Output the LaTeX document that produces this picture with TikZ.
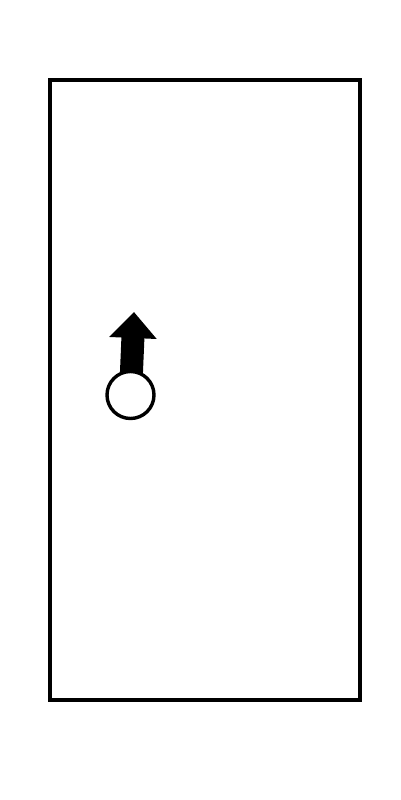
\documentclass[tikz,border=0pt]{standalone}
\usetikzlibrary{arrows.meta,backgrounds}
\begin{document}
\begin{tikzpicture}[x=1pt,y=-1pt,
  frame/.style={draw=black,line width=3.2pt,outer sep=0pt,inner sep=0pt},
  dot/.style={circle,draw=black,fill=white,line width=3.4pt,minimum size=47pt,inner sep=0pt},
  fatarrow/.style={line width=23pt,-{Triangle[width=46pt,length=26pt]}}]
\useasboundingbox (0,0) rectangle (400,800);
\node[frame,minimum width=310pt,minimum height=620pt,anchor=north west] (box) at (50,80) {};
\node[dot] (c) at (130.5,395) {};
\coordinate (tip) at (134,312);
\begin{pgfonlayer}{background}
\draw[fatarrow] (c.center) -- (tip);
\end{pgfonlayer}
\end{tikzpicture}
\end{document}
